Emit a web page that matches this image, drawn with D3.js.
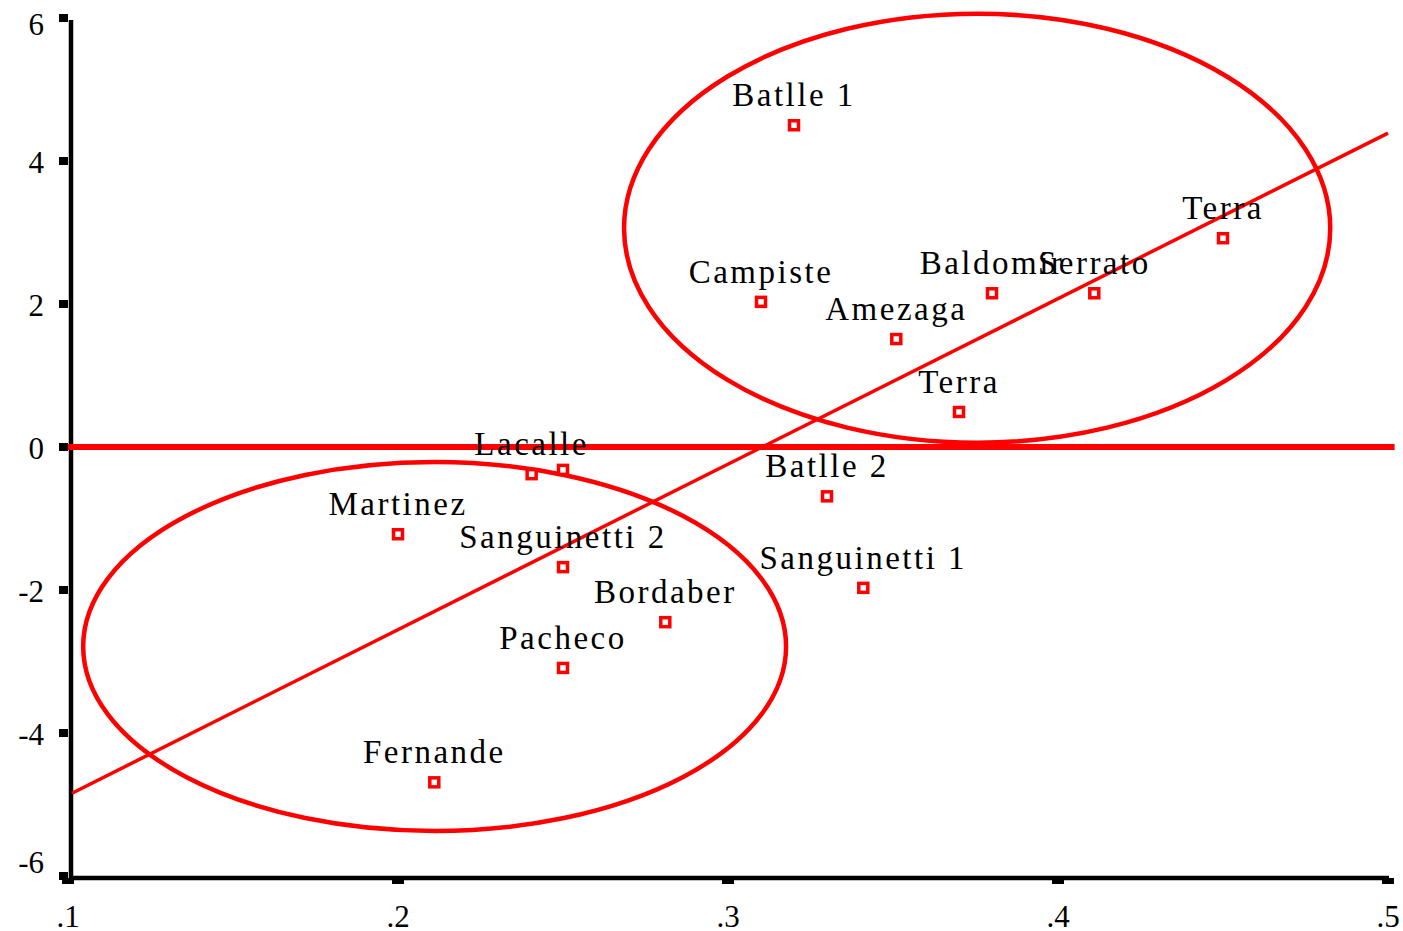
<!DOCTYPE html>
<html>
<head>
<meta charset="utf-8">
<script src="https://cdn.jsdelivr.net/npm/d3@7"></script>
<style>
  html, body { margin: 0; padding: 0; background: #fff; }
  svg { display: block; }
  text { font-family: "Liberation Serif", "Times New Roman", serif; fill: #000; }
</style>
</head>
<body>
<svg id="chart" width="1403" height="931"></svg>
<script>
// ---- data ----
const names = ["Batlle 1","Campiste","Amezaga","Baldomir","Serrato","Terra","Terra","Lacalle","","Batlle 2","Martinez","Sanguinetti 2","Sanguinetti 1","Bordaber","Pacheco","Fernande"];
const xVals = [0.32,0.31,0.351,0.38,0.411,0.45,0.37,0.2405,0.25,0.33,0.20,0.25,0.341,0.281,0.25,0.211];
const yVals = [4.50,2.03,1.51,2.15,2.15,2.92,0.49,-0.38,-0.32,-0.69,-1.22,-1.68,-1.97,-2.45,-3.09,-4.69];

const ellipseCx = [0.3755, 0.2111];
const ellipseCy = [3.06, -2.79];
const ellipseRx = [0.107, 0.1065];
const ellipseRy = [3.00, 2.58];

const fitX = [0.1, 0.5];
const fitY = [-4.87, 4.39];

const zeroX = [0.1, 0.502];
const zeroY = [0, 0];

const xTicks = [0.1, 0.2, 0.3, 0.4, 0.5];
const xTickLabels = [".1", ".2", ".3", ".4", ".5"];
const yTicks = [-6, -4, -2, 0, 2, 4, 6];
const yTickLabels = ["-6", "-4", "-2", "0", "2", "4", "6"];

// ---- scales ----
const svg = d3.select("#chart");
const x = d3.scaleLinear().domain([0.1, 0.5]).range([68, 1388]);
const y = d3.scaleLinear().domain([-6, 6]).range([876, 18]);

const red = "#ff0000";

// ---- axes ----
const axisX0 = x(0.1) + 3;
const axisY0 = y(-6) + 2;
svg.append("line").attr("x1", axisX0).attr("x2", axisX0)
  .attr("y1", y(6) + 2).attr("y2", axisY0 + 2)
  .attr("stroke", "#000").attr("stroke-width", 4.5);
svg.append("line").attr("x1", axisX0 - 2).attr("x2", x(0.5) + 1)
  .attr("y1", axisY0).attr("y2", axisY0)
  .attr("stroke", "#000").attr("stroke-width", 4.5);

// y tick squares
svg.selectAll("rect.ytick").data(yTicks).enter().append("rect")
  .attr("class", "ytick")
  .attr("x", axisX0 - 12).attr("y", d => y(d) - 4)
  .attr("width", 9).attr("height", 8).attr("fill", "#000");
// x tick squares
svg.selectAll("rect.xtick").data(xTicks).enter().append("rect")
  .attr("class", "xtick")
  .attr("x", d => x(d) - 6).attr("y", axisY0)
  .attr("width", 12).attr("height", 6).attr("fill", "#000");

// y tick labels
const yLabelShift = d => d === 6 ? 17 : (d === -6 ? -3 : 12);
svg.selectAll("text.ylab").data(yTicks).enter().append("text")
  .attr("class", "ylab")
  .attr("x", 44).attr("y", d => y(d) + yLabelShift(d))
  .attr("text-anchor", "end").attr("font-size", 31)
  .text((d, i) => yTickLabels[i]);

// x tick labels
svg.selectAll("text.xlab").data(xTicks).enter().append("text")
  .attr("class", "xlab")
  .attr("x", d => x(d)).attr("y", 927)
  .attr("text-anchor", "middle").attr("font-size", 31)
  .text((d, i) => xTickLabels[i]);

// ---- ellipses ----
svg.selectAll("ellipse.grp").data(ellipseCx).enter().append("ellipse")
  .attr("class", "grp")
  .attr("cx", (d, i) => x(ellipseCx[i]))
  .attr("cy", (d, i) => y(ellipseCy[i]))
  .attr("rx", (d, i) => x(ellipseCx[i] + ellipseRx[i]) - x(ellipseCx[i]))
  .attr("ry", (d, i) => y(ellipseCy[i] - ellipseRy[i]) - y(ellipseCy[i]))
  .attr("fill", "none").attr("stroke", red).attr("stroke-width", 4.5);

// ---- zero line ----
svg.append("line")
  .attr("x1", x(zeroX[0])).attr("x2", x(zeroX[1]))
  .attr("y1", y(zeroY[0])).attr("y2", y(zeroY[1]))
  .attr("stroke", red).attr("stroke-width", 6);

// ---- fit line ----
svg.append("line")
  .attr("x1", x(fitX[0]) + 4).attr("x2", x(fitX[1]))
  .attr("y1", y(fitY[0] + (fitY[1] - fitY[0]) * (4 / (x(fitX[1]) - x(fitX[0]))))).attr("y2", y(fitY[1]))
  .attr("stroke", red).attr("stroke-width", 3.5);

// ---- points ----
const pts = names.map((n, i) => ({ name: n, x: xVals[i], y: yVals[i] }));
svg.selectAll("rect.pt").data(pts).enter().append("rect")
  .attr("class", "pt")
  .attr("x", d => x(d.x) - 4.5).attr("y", d => y(d.y) - 4.5)
  .attr("width", 9).attr("height", 9)
  .attr("fill", "#fff").attr("stroke", red).attr("stroke-width", 3.5);

// ---- labels ----
svg.selectAll("text.lab").data(pts.filter(d => d.name)).enter().append("text")
  .attr("class", "lab")
  .attr("x", d => x(d.x)).attr("y", d => y(d.y) - 19)
  .attr("text-anchor", "middle").attr("font-size", 33)
  .attr("letter-spacing", 2.5)
  .text(d => d.name);
</script>
</body>
</html>
